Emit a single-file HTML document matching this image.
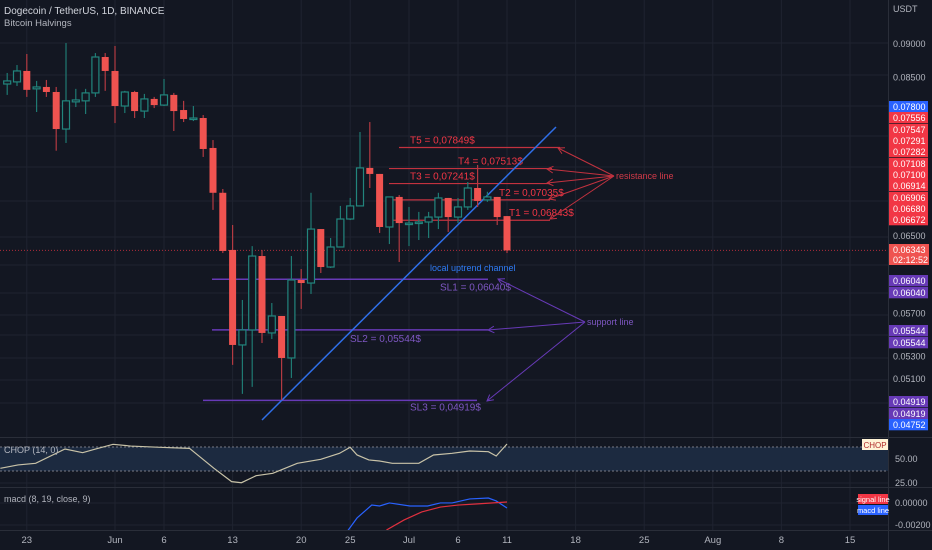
<!DOCTYPE html>
<html><head><meta charset="utf-8"><style>
html,body{margin:0;padding:0;background:#131722;}
svg{display:block;font-family:"Liberation Sans",sans-serif;}
</style></head><body>
<svg id="c" width="932" height="550" viewBox="0 0 932 550">
<rect x="0" y="0" width="932" height="550" fill="#131722"/>
<g id="grid"></g>
<g id="draw"></g>
<g id="candles"></g>
<g id="ind"></g>
<g id="axes"></g>
</svg>
<script>
// ---- data ----
const candleDays = [-11,-10,-9,-8,-7,-6,-5,-4,-3,-2,-1,0,1,2,3,4,5,6,7,8,9,10,11,12,13,14,15,16,17,18,19,20,21,22,23,24,25,26,27,28,29,30,31,32,33,34,35,36,37,38,39,40];
const opens  = [.08410,.08440,.08598,.08341,.08368,.08297,.07792,.08159,.08173,.08284,.08804,.08598,.08102,.08297,.08033,.08200,.08115,.08256,.08047,.07926,.07939,.07546,.06994,.06348,.05404,.05543,.06283,.05515,.05676,.05286,.06033,.06002,.06577,.06167,.06380,.06690,.06840,.07295,.07221,.06600,.06945,.06633,.06644,.06656,.06712,.06933,.06712,.06828,.07051,.06910,.06945,.06723];
const highs  = [.08569,.08685,.08849,.08454,.08468,.08368,.09015,.08341,.08341,.08863,.08863,.08970,.08313,.08313,.08270,.08228,.08482,.08284,.08173,.08102,.07979,.07648,.07039,.06622,.05832,.06390,.06348,.05802,.05676,.06283,.06146,.06994,.06577,.06478,.06840,.06933,.07753,.07885,.07221,.06945,.06968,.06828,.06771,.06771,.06994,.06933,.06933,.07123,.07332,.07006,.06945,.06723];
const lows   = [.08256,.08382,.08228,.08020,.08228,.07511,.07610,.08088,.07993,.08228,.08313,.07871,.08006,.07939,.07939,.08074,.08102,.07766,.07885,.07898,.07432,.06794,.06315,.05224,.04974,.05033,.05422,.05459,.04922,.05110,.05744,.05892,.06105,.06157,.06380,.06678,.06840,.07051,.06534,.06412,.06220,.06390,.06456,.06478,.06577,.06545,.06644,.06794,.06828,.06887,.06622,.06315];
const closes = [.08454,.08598,.08327,.08368,.08297,.07792,.08173,.08186,.08284,.08804,.08598,.08102,.08297,.08033,.08200,.08115,.08256,.08033,.07926,.07939,.07533,.06994,.06337,.05404,.05543,.06283,.05515,.05676,.05286,.06033,.06002,.06577,.06167,.06380,.06690,.06840,.07295,.07221,.06600,.06945,.06644,.06644,.06656,.06712,.06933,.06712,.06828,.07051,.06898,.06945,.06712,.06343];
const chopDays = [-11.7,-9.9,-8.1,-5.1,-3.3,-2.0,-0.2,1.6,4.6,7.6,10.1,11.9,12.9,14.4,16.1,18.6,21.0,22.9,24.0,24.7,25.9,27.0,28.3,31.0,32.5,34.4,36.2,38.1,38.9,40.0];
const chopVals = [40.3,43.8,45.5,60.4,56.6,60.4,65.3,63.5,62.2,61.1,40.3,26.4,25.3,32.6,35.1,45.5,49.7,55.9,62.2,54.2,49.0,47.9,45.5,45.5,54.2,55.9,58.3,57.6,53.1,65.6];
const macdDays = [23.3,23.8,24.7,26.2,27.0,28.0,30.1,31.9,33.2,34.4,36.2,38.1,38.9,40.0];
const macdVals = [-0.0034,-0.00248,-0.00133,-0.0001,-0.00019,0.0001,-0.00019,-0.00019,0.0001,0.0001,0.00048,0.00057,0.00029,-0.00038];
const sigDays = [27.7,29.5,31.3,33.2,35.0,36.8,40.0];
const sigVals = [-0.00248,-0.00152,-0.00076,-0.00029,-0.0001,0,0.00019];
const dateLabels = ["23","Jun","6","13","20","25","Jul","6","11","18","25","Aug","8","15"];
const dateDays = [-9,0,5,12,19,24,30,35,40,47,54,61,68,75];
const priceTicks = ["0.09000","0.08500","0.06500","0.05700","0.05300","0.05100"];
const priceTickVals = [0.09,0.085,0.065,0.057,0.053,0.051];
const targetPrices = [0.07552,0.07287,0.07104,0.06910,0.06676];
const targetTexts = ["T5 = 0,07849$","T4 = 0,07513$","T3 = 0,07241$","T2 = 0,07035$","T1 = 0,06843$"];
const supportPrices = [0.0604,0.05544,0.04919];
const supportTexts = ["SL1 = 0,06040$","SL2 = 0,05544$","SL3 = 0,04919$"];
const lastPrice = 0.06343;

// ---- scales ----
const NS="http://www.w3.org/2000/svg";
const xd = d => 115 + d*9.8;
const yp = p => 44 + 590*Math.log(0.09/p);
const yc = v => 459 - (v-50)*0.96;
const ym = v => 504 - v*10500;
function mk(parent, tag, attrs, text){
  const e=document.createElementNS(NS,tag);
  for(const k in attrs) e.setAttribute(k,attrs[k]);
  if(text!==undefined) e.textContent=text;
  document.getElementById(parent).appendChild(e);
  return e;
}
// clip paths
const defs=document.createElementNS(NS,'defs');
defs.innerHTML='<clipPath id="cpMain"><rect x="0" y="0" width="888" height="437"/></clipPath><clipPath id="cpMacd"><rect x="0" y="488" width="888" height="42"/></clipPath>';
document.getElementById('c').prepend(defs);

// ---- grid ----
[43,75,106,136,167,201,237,265,293,315,335,358,380,403,459,483,503,525].forEach(y=>{
  const l=mk('grid','line',{x1:0,x2:888,y1:y,y2:y,stroke:'#1f2330','stroke-width':1});
  
  
});
dateDays.forEach(d=>{
  const l=mk('grid','line',{x1:xd(d),x2:xd(d),y1:0,y2:530,stroke:'#1f2330','stroke-width':1});
  
  
});
// pane separators
[437,487,530].forEach(y=>{
  const l=mk('grid','line',{x1:0,x2:932,y1:y+0.5,y2:y+0.5,stroke:'#2a2e39','stroke-width':1});
  
  
});
const vs=mk('grid','line',{x1:888.5,x2:888.5,y1:0,y2:550,stroke:'#2a2e39'});



// ---- current price line ----
const pl=mk('draw','line',{x1:0,x2:888,y1:yp(lastPrice),y2:yp(lastPrice),stroke:'#f23645','stroke-width':1,'stroke-dasharray':'1 2',opacity:0.7});



// ---- candles ----
for(let i=0;i<candleDays.length;i++){
  const x=xd(candleDays[i]);
  const up=closes[i]>=opens[i];
  const wc=up?'#1f7a73':'#b33a42';
  const w=mk('candles','line',{x1:x,x2:x,y1:yp(highs[i]),y2:yp(lows[i]),stroke:wc,'stroke-width':1.2});
  
  
  const top=yp(Math.max(opens[i],closes[i])), bot=yp(Math.min(opens[i],closes[i]));
  const h=Math.max(1.5,bot-top);
  const b=up? mk('candles','rect',{x:x-3.5,y:top,width:7,height:h,fill:'#131722',stroke:'#22857d','stroke-width':1.2})
            : mk('candles','rect',{x:x-3.5,y:top,width:7,height:h,fill:'#ef5350'});
  
  
}

// ---- drawings ----
const RED='#c2323f', REDT='#f23645', PUR='#673ab7', PURT='#7e57c2';
const tStarts=[399,389,389,389,389], tEnds=[560,552,550,550,550], tTextX=[410,458,410,499,509];
targetPrices.forEach((p,i)=>{
  const y=yp(p);
  const l=mk('draw','line',{x1:tStarts[i],x2:tEnds[i],y1:y,y2:y,stroke:RED,'stroke-width':1.2});
  
  
  const t=mk('draw','text',{x:tTextX[i],y:y-4,fill:REDT,'font-size':10},targetTexts[i]);
  
  
});
const sStarts=[212,212,203], sEnds=[488,488,477], sTextX=[440,350,410], sTextDy=[11,12,10];
supportPrices.forEach((p,i)=>{
  const y=yp(p);
  const l=mk('draw','line',{x1:sStarts[i],x2:sEnds[i],y1:y,y2:y,stroke:PUR,'stroke-width':1.5});
  
  
  const t=mk('draw','text',{x:sTextX[i],y:y+sTextDy[i],fill:PURT,'font-size':10},supportTexts[i]);
  
  
});
// uptrend line
const ut=mk('draw','line',{x1:262,y1:420,x2:556,y2:127,stroke:'#2f6fe8','stroke-width':1.5});


const utt=mk('draw','text',{x:430,y:271,fill:'#2f7cf6','font-size':9},'local uptrend channel');


// arrows
function arrow(x1,y1,x2,y2,col,name){
  const l=mk('draw','line',{x1,y1,x2,y2,stroke:col,'stroke-width':1});
  
  
  const a=Math.atan2(y1-y2,x1-x2), s=7;
  const hd=mk('draw','polyline',{points:`${x2+s*Math.cos(a+0.5)},${y2+s*Math.sin(a+0.5)} ${x2},${y2} ${x2+s*Math.cos(a-0.5)},${y2+s*Math.sin(a-0.5)}`,fill:'none',stroke:col,'stroke-width':1});
  
  
}
[[558,148],[547,169],[547,183],[549,199],[550,219]].forEach(p=>arrow(614,176,p[0],p[1],RED,'resistance-arrow'));
[[498,279],[488,330],[487,401]].forEach(p=>arrow(585,322,p[0],p[1],PUR,'support-arrow'));
const rt=mk('draw','text',{x:616,y:179,fill:'#d03a48','font-size':9},'resistance line');


const st=mk('draw','text',{x:587,y:325,fill:'#7e57c2','font-size':9},'support line');



// ---- CHOP pane ----
const band=mk('ind','rect',{x:0,y:447,width:888,height:24,fill:'#1c2a40'});


[447,471].forEach(y=>{
  const l=mk('ind','line',{x1:0,x2:888,y1:y,y2:y,stroke:'#787b86','stroke-dasharray':'2 2','stroke-width':1});
  
  
});
const cp=mk('ind','polyline',{points:chopDays.map((d,i)=>xd(d)+','+yc(chopVals[i])).join(' '),fill:'none',stroke:'#c9c3a8','stroke-width':1.2});


const ct=mk('ind','text',{x:4,y:453,fill:'#b2b5be','font-size':9},'CHOP (14, 0)');


const cbg=mk('ind','rect',{x:862,y:439,width:26,height:11,fill:'#fff3d6'});


const cbt=mk('ind','text',{x:875,y:448,fill:'#b02a2a','font-size':8,'text-anchor':'middle'},'CHOP');



// ---- MACD pane ----
const mg=mk('ind','g',{'clip-path':'url(#cpMacd)'});


const ml=document.createElementNS(NS,'polyline');
ml.setAttribute('points',macdDays.map((d,i)=>xd(d)+','+ym(macdVals[i])).join(' '));
ml.setAttribute('fill','none');ml.setAttribute('stroke','#2962ff');ml.setAttribute('stroke-width','1.2');


mg.appendChild(ml);
const sl=document.createElementNS(NS,'polyline');
sl.setAttribute('points',sigDays.map((d,i)=>xd(d)+','+ym(sigVals[i])).join(' '));
sl.setAttribute('fill','none');sl.setAttribute('stroke','#e0303f');sl.setAttribute('stroke-width','1.2');


mg.appendChild(sl);
const mt=mk('ind','text',{x:4,y:502,fill:'#b2b5be','font-size':9},'macd (8, 19, close, 9)');


const sb=mk('ind','rect',{x:858,y:494,width:30,height:10,fill:'#f23645'});


const sbt=mk('ind','text',{x:873,y:502,fill:'#fff','font-size':7.5,'text-anchor':'middle'},'signal line');


const mb=mk('ind','rect',{x:858,y:505,width:30,height:10,fill:'#2962ff'});


const mbt=mk('ind','text',{x:873,y:513,fill:'#fff','font-size':7.5,'text-anchor':'middle'},'macd line');



// ---- axes ----
const hdr=mk('axes','text',{x:4,y:14,fill:'#d1d4dc','font-size':10},'Dogecoin / TetherUS, 1D, BINANCE');


const hdr2=mk('axes','text',{x:4,y:26,fill:'#b2b5be','font-size':9.5},'Bitcoin Halvings');


const ccy=mk('axes','text',{x:893,y:12,fill:'#b2b5be','font-size':9},'USDT');


priceTicks.forEach((t,i)=>{
  const e=mk('axes','text',{x:893,y:yp(priceTickVals[i])+3,fill:'#b2b5be','font-size':9},t);
  
  
});
const badgeTexts=["0.07800","0.07556","0.07547","0.07291","0.07282","0.07108","0.07100","0.06914","0.06906","0.06680","0.06672","0.06040","0.06040","0.05544","0.05544","0.04919","0.04919","0.04752"];
const badgeColors=["#2962ff","#f23645","#f23645","#f23645","#f23645","#f23645","#f23645","#f23645","#f23645","#f23645","#f23645","#673ab7","#673ab7","#673ab7","#673ab7","#673ab7","#673ab7","#2962ff"];
const badgeYs=[101,112,124,135,146,158,169,180,192,203,214,275,287,325,337,396,408,419];
badgeTexts.forEach((t,i)=>{
  const r=mk('axes','rect',{x:889,y:badgeYs[i],width:39,height:11.3,fill:badgeColors[i]});
  
  
  const e=mk('axes','text',{x:893,y:badgeYs[i]+8.8,fill:'#fff','font-size':9},t);
  
  
});
const lb=mk('axes','rect',{x:889,y:244,width:40,height:21,fill:'#ef5350'});


const lt1=mk('axes','text',{x:893,y:253,fill:'#fff','font-size':9},'0.06343');


const lt2=mk('axes','text',{x:893,y:263,fill:'#fff','font-size':9},'02:12:52');


[["50.00",462],["25.00",486],["0.00000",506],["-0.00200",528]].forEach(a=>{
  const e=mk('axes','text',{x:895,y:a[1],fill:'#b2b5be','font-size':9},a[0]);
  
  
});
dateLabels.forEach((t,i)=>{
  const e=mk('axes','text',{x:xd(dateDays[i]),y:543,fill:'#b2b5be','font-size':9.5,'text-anchor':'middle'},t);
  
  
});
</script>
</body></html>
